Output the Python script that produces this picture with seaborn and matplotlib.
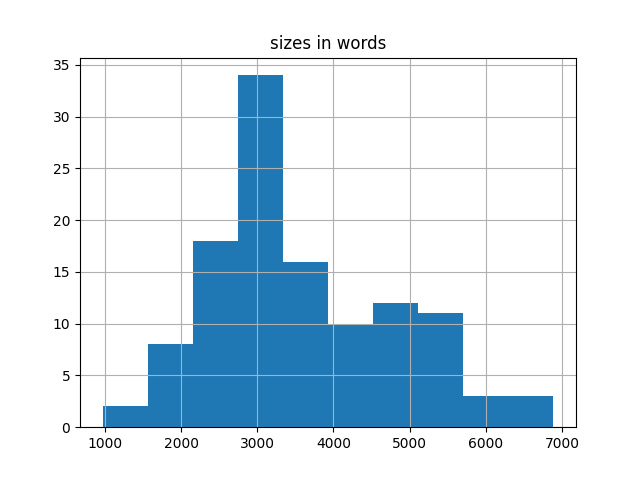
import numpy as np
import pandas as pd
import matplotlib
matplotlib.use("Agg")
import matplotlib.pyplot as plt
import seaborn as sns

# histogram: 10 bins between the min and max size
bin_lo = 970
bin_hi = 6887
counts = [2, 8, 18, 34, 16, 10, 12, 11, 3, 3]

edges = np.linspace(bin_lo, bin_hi, len(counts) + 1)
df = pd.DataFrame({'size': (edges[:-1] + edges[1:]) / 2, 'n': counts})

fig, ax = plt.subplots(figsize=(6.4, 4.8), dpi=100)
sns.histplot(data=df, x='size', weights='n', bins=len(counts),
             binrange=(bin_lo, bin_hi), ax=ax,
             color='#1f77b4', alpha=1, edgecolor='none', linewidth=0)
ax.set_title('sizes in words')
ax.set_xlabel('')
ax.set_ylabel('')
ax.grid(True, color='#b0b0b0', linewidth=0.8)
ax.set_axisbelow('line')
fig.savefig('out.png')
